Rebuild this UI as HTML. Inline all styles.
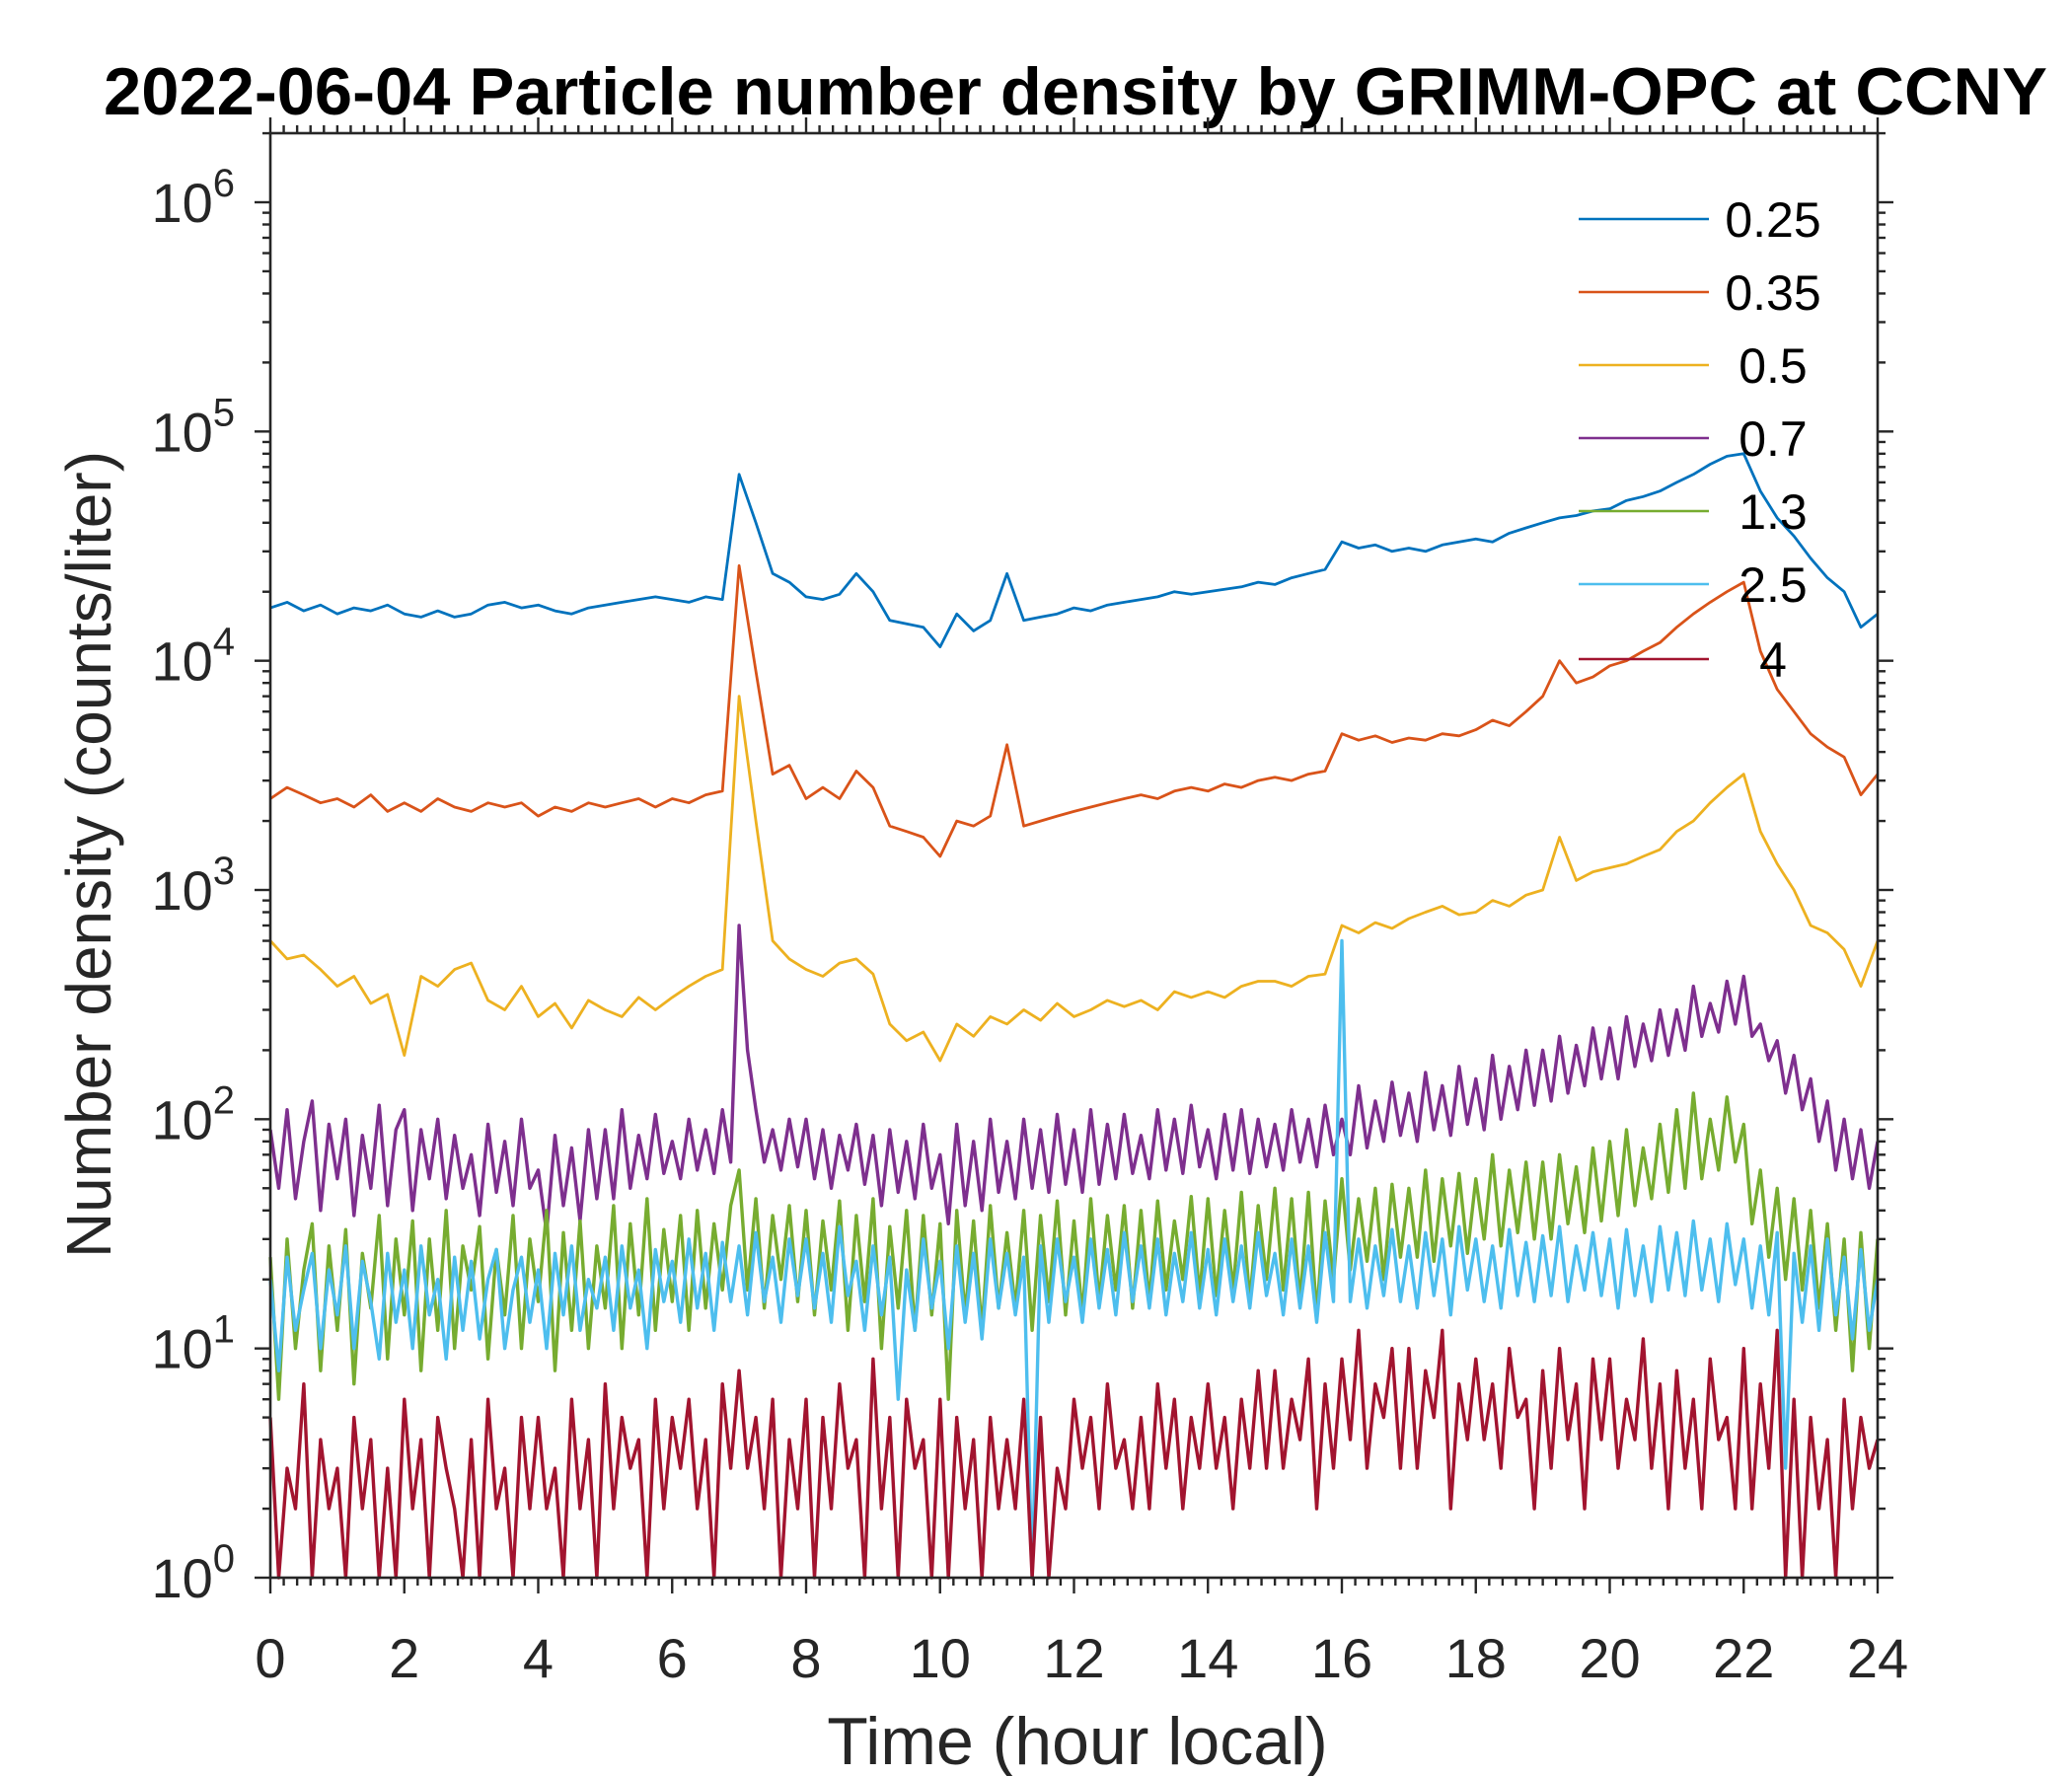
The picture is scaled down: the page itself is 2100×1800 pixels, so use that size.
<!DOCTYPE html>
<html><head><meta charset="utf-8"><style>
html,body{margin:0;padding:0;background:#fff;}
svg{display:block;font-family:"Liberation Sans",Arial,sans-serif;}
</style></head><body>
<svg id="chart" width="2100" height="1800" viewBox="0 0 2100 1800" xmlns="http://www.w3.org/2000/svg">
<rect width="2100" height="1800" fill="#fff"/>
<text x="1090" y="116" text-anchor="middle" font-size="68" font-weight="bold" fill="#000" textLength="1970" lengthAdjust="spacingAndGlyphs">2022-06-04 Particle number density by GRIMM-OPC at CCNY</text>
<g id="series"></g>
<g id="axes"></g>
<text x="1092" y="1788" text-anchor="middle" font-size="68" fill="#262626">Time (hour local)</text>
<text transform="translate(112,866) rotate(-90)" text-anchor="middle" font-size="64" fill="#262626">Number density (counts/liter)</text>
<g id="legend"></g>
</svg>
<script>
const sizes = ["0.25","0.35","0.5","0.7","1.3","2.5","4"];
const colors = ["#0072BD","#D95319","#EDB120","#7E2F8E","#77AC30","#4DBEEE","#A2142F"];
const xSteps = [0.25,0.25,0.25,0.125,0.125,0.125,0.125];
const s025 = [17000,18000,16500,17500,16000,17000,16500,17500,16000,15500,16500,15500,16000,17500,18000,17000,17500,16500,16000,17000,17500,18000,18500,19000,18500,18000,19000,18500,65000,40000,24000,22000,19000,18500,19500,24000,20000,15000,14500,14000,11500,16000,13500,15000,24000,15000,15500,16000,17000,16500,17500,18000,18500,19000,20000,19500,20000,20500,21000,22000,21500,23000,24000,25000,33000,31000,32000,30000,31000,30000,32000,33000,34000,33000,36000,38000,40000,42000,43000,45000,46000,50000,52000,55000,60000,65000,72000,78000,80000,55000,42000,35000,28000,23000,20000,14000,16000];
const s035 = [2500,2800,2600,2400,2500,2300,2600,2200,2400,2200,2500,2300,2200,2400,2300,2400,2100,2300,2200,2400,2300,2400,2500,2300,2500,2400,2600,2700,26000,9000,3200,3500,2500,2800,2500,3300,2800,1900,1800,1700,1400,2000,1900,2100,4300,1900,2000,2100,2200,2300,2400,2500,2600,2500,2700,2800,2700,2900,2800,3000,3100,3000,3200,3300,4800,4500,4700,4400,4600,4500,4800,4700,5000,5500,5200,6000,7000,10000,8000,8500,9500,10000,11000,12000,14000,16000,18000,20000,22000,11000,7500,6000,4800,4200,3800,2600,3200];
const s05 = [600,500,520,450,380,420,320,350,190,420,380,450,480,330,300,380,280,320,250,330,300,280,340,300,340,380,420,450,7000,2000,600,500,450,420,480,500,430,260,220,240,180,260,230,280,260,300,270,320,280,300,330,310,330,300,360,340,360,340,380,400,400,380,420,430,700,650,720,680,750,800,850,780,800,900,850,950,1000,1700,1100,1200,1250,1300,1400,1500,1800,2000,2400,2800,3200,1800,1300,1000,700,650,550,380,600];
const s07 = [90,50,110,45,80,120,40,95, 55,100,38,85,50,115,42,90, 110,40,90,55,100,45,85,50, 70,38,95,48,80,42,100,50, 60,32,85,42,75,36,90,45, 90,45,110,50,85,55,105,58, 80,55,100,60,90,58,110,65, 700,200,110,65,90,60,100,62, 100,55,90,50,85,60,95,52, 85,42,90,48,80,45,95,50, 70,35,95,42,80,40,100,48, 80,45,100,50,90,48,105,52, 90,48,110,52,95,55,105,58, 85,55,110,60,100,58,115,62, 90,55,105,60,110,58,100,62, 95,60,110,65,100,62,115,70, 100,70,140,75,120,80,145,85, 130,80,160,90,140,85,170,95, 150,90,190,100,170,110,200,115, 200,120,230,130,210,140,250,150, 250,150,280,170,260,180,300,190, 300,200,380,230,320,240,400,260, 420,230,260,180,220,130,190,110, 150,80,120,60,100,55,90,50, 80];
const s13 = [25,6,30,10,22,35,8,28, 12,33,7,26,15,38,9,30, 14,36,8,30,12,40,10,28, 18,34,9,27,14,38,10,30, 16,40,8,32,12,36,10,28, 15,42,10,35,14,45,12,33, 16,38,12,40,15,35,18,42, 60,18,45,15,38,20,42,16, 40,14,36,18,44,12,38,16, 45,10,34,15,40,12,38,14, 35,6,40,14,36,12,42,15, 32,15,40,12,38,16,44,14, 36,14,45,16,38,18,42,15, 40,16,44,18,36,20,46,17, 45,17,40,18,48,16,42,20, 50,18,45,16,48,14,44,20, 55,22,45,24,50,20,52,25, 50,25,60,24,55,28,58,26, 55,30,70,28,60,32,65,30, 65,30,70,35,62,32,75,36, 80,38,90,42,75,45,95,48, 110,50,130,55,100,60,125,65, 95,35,60,25,50,20,45,18, 40,15,35,12,30,8,32,10, 30];
const s25 = [20,8,25,12,18,26,10,22, 14,28,10,24,16,9,26,13, 22,10,28,14,20,9,25,12, 24,11,20,27,10,18,25,13, 22,10,26,14,28,12,20,15, 25,12,28,15,22,10,27,16, 24,13,30,15,26,12,29,16, 28,14,32,16,25,13,30,17, 30,15,26,13,34,17,24,12, 28,14,25,6,22,12,30,15, 24,10,28,13,26,11,30,15, 26,14,25,1,28,13,30,16, 25,13,30,15,27,14,32,16, 28,15,30,14,26,16,32,15, 27,14,30,16,28,15,32,17, 26,14,30,15,28,13,32,16, 600,16,30,15,28,17,33,16, 28,15,32,17,30,14,34,18, 30,16,28,15,33,17,29,16, 31,17,34,16,28,18,32,17, 30,15,33,17,28,16,34,18, 32,17,36,18,30,16,35,19, 30,15,28,14,32,3,26,13, 28,12,30,14,25,11,27,12, 20];
const s4 = [5,0,3,2,7,1,4,2, 3,0,5,2,4,1,3,0, 6,2,4,1,5,3,2,0, 4,1,6,2,3,0,5,2, 5,2,3,1,6,2,4,1, 7,2,5,3,4,1,6,2, 5,3,6,2,4,1,7,3, 8,3,5,2,6,1,4,2, 6,0,5,2,7,3,4,1, 9,2,5,0,6,3,4,0, 6,1,5,2,4,0,5,2, 4,2,6,0,5,1,3,2, 6,3,5,2,7,3,4,2, 5,2,7,3,6,2,5,3, 7,3,5,2,6,3,8,3, 8,3,6,4,9,2,7,3, 9,4,12,3,7,5,10,3, 10,3,8,5,12,2,7,4, 9,4,7,3,10,5,6,2, 8,3,10,4,7,2,9,4, 9,3,6,4,11,3,7,2, 8,3,6,2,9,4,5,2, 10,2,7,3,12,1,6,0, 5,2,4,0,6,2,5,3, 4];
const seriesData = [s025,s035,s05,s07,s13,s25,s4];
const xTicks = [0,2,4,6,8,10,12,14,16,18,20,22,24];
const yExps = [0,1,2,3,4,5,6];

const L=274,R=1903,T=135,B=1599;
const yTop6=205;
const yDec=(B-yTop6)/6;
const NS="http://www.w3.org/2000/svg";
function xs(h){return L+(h/24)*(R-L);}
function ys(v){const lv=Math.log10(Math.max(v,1));return B-lv*yDec;}
function mk(tag,attrs,parent){const e=document.createElementNS(NS,tag);for(const k in attrs)e.setAttribute(k,attrs[k]);parent.appendChild(e);return e;}

const gS=document.getElementById('series');
seriesData.forEach((arr,i)=>{
  const st=xSteps[i];
  const d=arr.map((v,j)=>(j?'L':'M')+xs(j*st).toFixed(1)+','+ys(v).toFixed(1)).join('');
  const p=mk('path',{d:d,fill:'none',stroke:colors[i],'stroke-width':(i>=3?3.4:2.8),'stroke-linejoin':'round'},gS);
  
  
});

const gA=document.getElementById('axes');
const ax='#262626';
const box=mk('rect',{x:L,y:T,width:R-L,height:B-T,fill:'none',stroke:ax,'stroke-width':2.6},gA);


for(let k=0;k<=120;k++){
  const h=k*0.2, x=xs(h), major=(k%10===0);
  const len=major?16:8;
  mk('line',{x1:x,y1:B,x2:x,y2:B+len,stroke:ax,'stroke-width':2.4},gA);
  mk('line',{x1:x,y1:T,x2:x,y2:T-len,stroke:ax,'stroke-width':2.4},gA);
}
xTicks.forEach(h=>{
  const t=mk('text',{x:xs(h),y:1700,'text-anchor':'middle','font-size':56,fill:ax},gA);
  t.textContent=String(h);
  
  
});
for(let e=0;e<=6;e++){
  for(let m=1;m<=9;m++){
    const v=m*Math.pow(10,e); const y=ys(v);
    if(y<T) continue;
    const len=(m===1)?16:8;
    mk('line',{x1:L,y1:y,x2:L-len,y2:y,stroke:ax,'stroke-width':2.4},gA);
    mk('line',{x1:R,y1:y,x2:R+len,y2:y,stroke:ax,'stroke-width':2.4},gA);
  }
}
yExps.forEach(e=>{
  const y=ys(Math.pow(10,e));
  const t=mk('text',{x:238,y:y+20,'text-anchor':'end','font-size':56,fill:ax},gA);
  
  
  const base=document.createElementNS(NS,'tspan'); base.textContent='10'; t.appendChild(base);
  const sup=document.createElementNS(NS,'tspan'); sup.setAttribute('dy','-26'); sup.setAttribute('font-size','40'); sup.textContent=String(e); t.appendChild(sup);
});

const gL=document.getElementById('legend');


const legY=[222,296,370,444,518,592,668];
sizes.forEach((s,i)=>{
  const g=mk('g',{},gL);
  
  
  mk('line',{x1:1600,y1:legY[i],x2:1732,y2:legY[i],stroke:colors[i],'stroke-width':2.6},g);
  const t=mk('text',{x:1797,y:legY[i]+18,'text-anchor':'middle','font-size':50,fill:'#000'},g);
  t.textContent=s;
});
</script>
</body></html>
